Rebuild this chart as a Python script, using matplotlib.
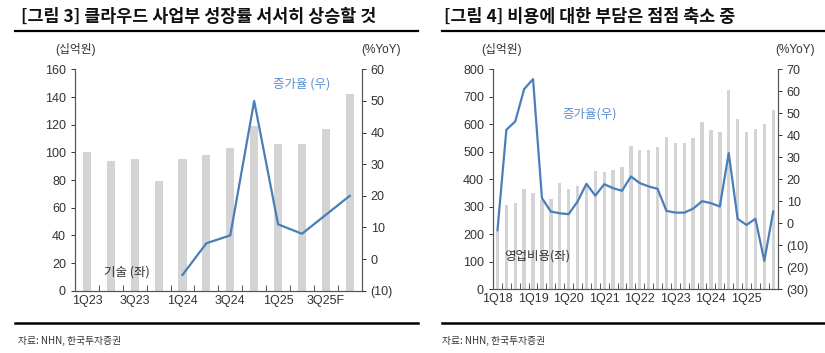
import numpy as np
import matplotlib
matplotlib.use("Agg")
import matplotlib.pyplot as plt
from matplotlib.ticker import FuncFormatter

# Arial-like Latin with Korean fallback
plt.rcParams['font.family'] = ['Liberation Sans', 'Noto Sans CJK KR', 'DejaVu Sans']

# Left chart: cloud business
q_left = ['1Q23', '2Q23', '3Q23', '4Q23', '1Q24', '2Q24', '3Q24', '4Q24',
          '1Q25', '2Q25', '3Q25F', '4Q25F']
tech_rev = [100, 94, 95, 79, 95, 98, 103, 119, 106, 106, 117, 142]
tech_yoy = [np.nan, np.nan, np.nan, np.nan, -5, 5, 7.5, 50, 11, 8, 14, 20]

# Right chart: operating expenses
q_right = [f'{q}Q{y}' for y in range(18, 26) for q in range(1, 5)]
opex = [209, 306, 313, 366, 349, 325, 329, 385, 364, 376, 375, 430,
        425, 434, 444, 519, 507, 507, 515, 552, 530, 530, 548, 607,
        578, 573, 722, 619, 573, 583, 601, 651]
opex_yoy = [-3.3, 42.4, 46.2, 60.9, 65.4, 11.4, 5.3, 4.5, 4.1, 9.8, 17.9, 12.5,
            17.7, 15.9, 14.7, 21.2, 18.2, 16.7, 15.6, 5.6, 4.8, 4.8, 6.6, 10.0,
            9.1, 7.6, 31.8, 2.0, -0.8, 2.0, -17.1, 5.3]

BAR = '#d4d4d4'
LINE = '#4a7ebb'
TXT = '#333333'
KR = ['Noto Sans CJK KR', 'DejaVu Sans']


def paren_fmt(v, pos):
    v = int(round(v))
    return f'({abs(v)})' if v < 0 else f'{v}'


def style_axes(ax, ax2):
    for a in (ax, ax2):
        a.spines['top'].set_visible(False)
        for s in ('left', 'right', 'bottom'):
            a.spines[s].set_color('#555555')
            a.spines[s].set_linewidth(0.8)
        a.tick_params(axis='y', labelsize=9, colors=TXT, length=3,
                      direction='out', width=0.7)
    ax.tick_params(axis='x', which='minor', length=4, direction='in',
                   width=0.7, color='#555555')
    ax.tick_params(axis='x', which='major', length=0, labelsize=9,
                   colors=TXT, pad=3)
    ax2.yaxis.set_major_formatter(FuncFormatter(paren_fmt))


fig = plt.figure(figsize=(8.25, 3.53), dpi=100)

# ----- left chart -----
ax = fig.add_axes([0.0909, 0.1765, 0.3475, 0.627])
x = np.arange(len(q_left))
ax.bar(x, tech_rev, width=0.34, color=BAR, zorder=1)
ax.set_ylim(0, 160)
ax.set_yticks(range(0, 161, 20))
ax.set_xlim(-0.5, len(q_left) - 0.5)
ax.set_xticks(x[::2])
ax.set_xticklabels(q_left[::2])
ax.set_xticks(np.arange(0.5, len(q_left) - 0.5), minor=True)
ax2 = ax.twinx()
ax2.plot(x, tech_yoy, color=LINE, lw=1.6)
ax2.set_ylim(-10, 60)
ax2.set_yticks(range(-10, 61, 10))
style_axes(ax, ax2)
ax.text(0.79, 0.935, '증가율 (우)', transform=ax.transAxes, color='#5b8fcf',
        fontsize=9, ha='center', va='center', family=KR)
ax.text(0.18, 0.083, '기술 (좌)', transform=ax.transAxes, color=TXT,
        fontsize=9, ha='center', va='center', family=KR)

# ----- right chart -----
bx = fig.add_axes([0.5976, 0.1805, 0.345, 0.624])
xr = np.arange(len(q_right))
bx.bar(xr, opex, width=0.38, color=BAR, zorder=1)
bx.set_ylim(0, 800)
bx.set_yticks(range(0, 801, 100))
bx.set_xlim(-0.5, len(q_right) - 0.5)
bx.set_xticks(xr[::4])
bx.set_xticklabels(q_right[::4])
bx.set_xticks(np.arange(0.5, len(q_right) - 0.5), minor=True)
bx2 = bx.twinx()
bx2.plot(xr, opex_yoy, color=LINE, lw=1.6)
bx2.set_ylim(-30, 70)
bx2.set_yticks(range(-30, 71, 10))
style_axes(bx, bx2)
bx.text(0.34, 0.795, '증가율(우)', transform=bx.transAxes, color='#5b8fcf',
        fontsize=9, ha='center', va='center', family=KR)
bx.text(0.155, 0.15, '영업비용(좌)', transform=bx.transAxes, color=TXT,
        fontsize=9, ha='center', va='center', family=KR)

# ----- titles, units, rules, sources -----
fig.text(21 / 825, 1 - 17 / 353, '[그림 3] 클라우드 사업부 성장률 서서히 상승할 것',
         fontsize=12.5, fontweight='bold', va='center', ha='left', color='#111111',
         family=KR)
fig.text(444 / 825, 1 - 17 / 353, '[그림 4] 비용에 대한 부담은 점점 축소 중',
         fontsize=12.5, fontweight='bold', va='center', ha='left', color='#111111',
         family=KR)

for cx, s in [(76, '(십억원)'), (381, '(%YoY)'), (502, '(십억원)'), (795, '(%YoY)')]:
    fig.text(cx / 825, 1 - 50 / 353, s, fontsize=8.5, color=TXT,
             ha='center', va='center')

for x0, x1 in [(15, 418), (442, 825)]:
    fig.add_artist(plt.Line2D([x0 / 825, x1 / 825], [1 - 31 / 353] * 2,
                              color='black', lw=1.6))
    fig.add_artist(plt.Line2D([x0 / 825, x1 / 825], [1 - 323 / 353] * 2,
                              color='black', lw=1.8))

for x0 in (18, 442):
    fig.text(x0 / 825, 1 - 341 / 353, '자료: NHN, 한국투자증권', fontsize=7,
             color=TXT, ha='left', va='center', family=KR)

fig.savefig('out.png', dpi=100)
